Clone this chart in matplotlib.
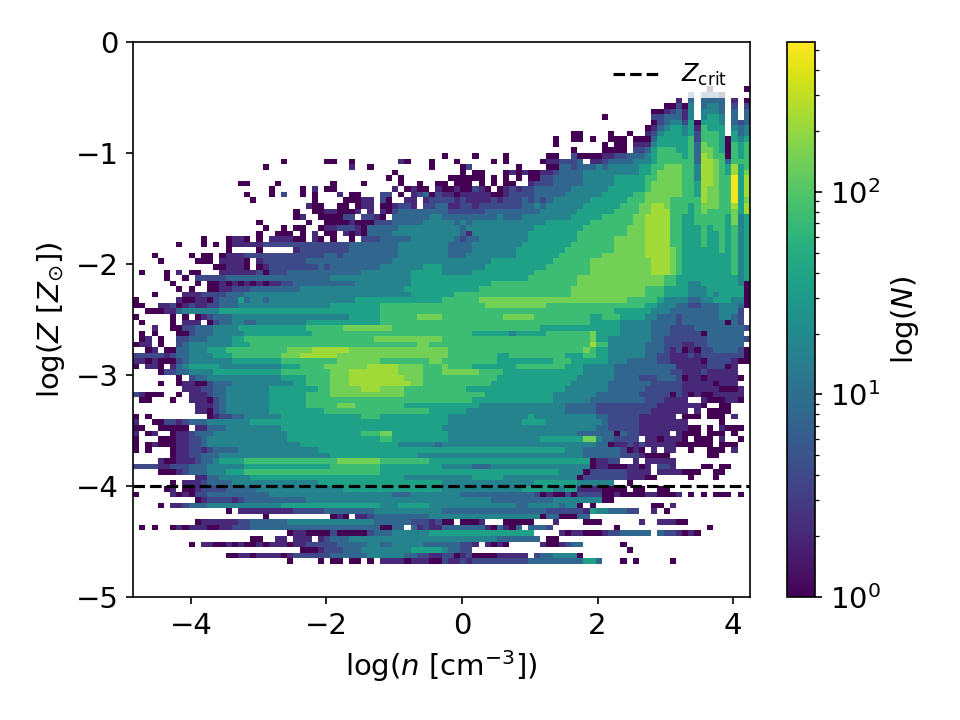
import matplotlib
matplotlib.use("Agg")
import matplotlib.pyplot as plt
from matplotlib.colors import LogNorm
import numpy as np

# counts per bin for each digit used in the rows below, '.' is an empty bin
count_levels = [1, 2, 4, 8, 17, 36, 75, 145, 225, 500]

# histogram rows, metallicity falling downwards, ten density bins per group
first_row = 8
top_rows = [
    ". . . . . . . . . ...0.....0",
    ". . . . . . . . . 3.3330....",
    ". . . . . . . . ........1. 3.3333.1.0",
    ". . . . . . . . ......0020 4.3443.2.2",
    ". . . . . . . . ....001231 4.4443.3.3",
    ". . . . . . . ......0... ....223331 4.4554.3.3",
    ". . . . . . . . ....023442 505554.323",
    ". . . . . . . . ...0134554 516555.434",
    ". . . . . . . .00....0.. 0..1245554 526665.534",
    ". . . . . . ........0. .00.0..000 .000355555 6266650545",
    ". . . . . . ........0. ......0.00 .111455555 6376650656",
    ". . . . . . . .0....0000 .223566655 6377650656",
    ". . . . . 0....0.... 0......00. .200001122 3334566665 6387660656",
    ". . ....0..... .00..0.... ...10...0. ..0.....0. 0.....0112 223.112333 3444566666 6388763666",
    ". . .0........ .....1..0. ........0. ...02..... ..0....003 3233343444 4455667776 6488765856",
    ". . . . ..0....... ...0.00... 0101001123 3334444444 4455677776 6488765857",
    ". . . . .0.0...... .000000.0. 0.0.002233 3334444455 5556677776 6488766958",
    ". .......00. ...0...... ..0....0.. ...0..0..0 0.000.0.0. 00..122233 3334444455 5556777776 6588766958",
    ". . ..0....0.1 .00....... ..1.0100.1 00100210.0 1212233333 3444444555 5556777776 6587766958",
    ". ........0. ..0.2..0.0 ...1.00... 22.0.12302 1101111100 1222233333 4444445555 5667777776 6587766958",
    ". .........0 .........0 ....00011. 20..11.122 2212111121 2223232344 4444555555 6667777666 6687766957",
    ". . ........10 0..00.011. 001221.223 3112212222 2223343444 4445555556 6677887666 5677766858",
    ". . ......0..0 0110001.1. 1023333333 3222222333 3333334444 4455555566 6677888666 5676666758",
    ". . ......01.. 000022.221 0.33333344 3333333334 3334444444 4555556666 6778888665 5666665745",
    ". . 0.......0. .000010002 2233333444 4434344444 4444444555 5555666666 6778888665 5666665745",
]
mid_rows = [
    ". . .0..0.00.. 0112221033 3334444444 4443444444 4444455555 5556666666 7778888665 5565665645",
    ". . 0..000.0.1 .00.101033 3344444444 4443144444 4444555555 5566666666 7778888665 5565565645",
    ". .0...0110. 0.111100.1 0.0..0.222 3333344444 4432334444 4444555555 5566666677 7778888665 5565565645",
    ".......0.. .0.0.01111 1222222222 2222233333 3334444444 4333344444 4445555555 5666666677 7778888665 5565565645",
    ". .....0.... 0.....1222 2222233333 3334444444 4333344444 4455555555 6666666677 7778888765 5555565645",
    "...0.....0 .00.011122 2222222222 2332333333 3334444444 4333444444 4455555556 6666667777 7778888765 5555555645",
    "....0..... 000.11110. 1222222233 3333333333 3344444444 4444444455 5555555566 6666777777 7777888765 5555555645",
    ". ...001110. 0122222222 3233333333 4444444555 4444444555 5555555666 6666777777 7777888765 5555555645",
    ".0...0.1.0 0...111111 2022233333 3333333444 4444455555 4444455555 5555566666 6666777777 7777888765 5555555645",
    ".....0..0. 2222233333 3333333333 3344444444 4444455555 5555555555 5555666666 6677777777 7777776655 5555555545",
    "......0... 0.00101010 1011223333 3333334444 4444455555 5555555566 6666666666 6677777777 7777776655 4455555540",
    ".......0.0 ..00112223 3333333444 4444444444 4444555555 5555556666 6666666666 6777777777 7776665555 4445555550",
    "...0....11 1222233344 4444444444 4444444444 4444455555 5566666666 6666666666 6777777777 7776665555 4445455550",
    "0......100 1102333534 4344444444 4444445555 5555555555 6666667777 7777777777 7777777777 6666654444 3344555440",
    "00..112012 1122333444 4444444444 4455555555 6666666666 6666666777 7777777666 6666666666 6665544433 2233344430",
    "..00011344 4444555555 5555555555 5555555555 6666666666 6666666666 6666666666 6666666655 5555444333 333334442.",
    "0.....0.0. 0123334444 4444444444 4444455555 6666667777 6666666666 7777766666 6666556665 5554433323 333334432.",
    ".0....0.11 1.02334433 4444444455 5555555555 6666666666 6666666666 6666666666 6666555554 4444333323 333333032.",
    "...1..0022 3334444555 5555555566 6666777777 7766666666 6666666666 6666665555 5555555554 4444333222 2333333332",
    ".0.0...002 3334444455 5555555556 6666666666 6666666666 6666655555 5455555666 6666755554 4444333222 220333333.",
    ".01.0..223 3344445566 6666666666 6666666667 7777777777 6666666666 6666666666 6666755444 4444332222 2223333332",
    "011.0..234 4444445556 6666666666 6666666666 6666667766 6666666666 6666666666 6666866444 4443332221 122333333.",
    "..01.00334 4455566666 6666677778 8888877777 7777777777 7666666666 6666666666 6667655444 4443332120 1022333320",
    "2222212334 4445556666 6666777888 8887777777 7777777777 7666666665 5666666666 5556655444 4443322111 2122222220",
    "1101000234 4444445555 5555666666 6667777777 6666666677 6666666665 5555555566 6555555444 3333322111 1102222100",
    "0.110.1345 5555444444 4444555666 6777777788 8887777666 7666655555 5566666666 5554444433 3333333311 11122201..",
    "....022334 4445555555 5555666666 6677788888 8887777666 7777776666 5555555555 5554444433 3333333221 11211111..",
    ".......0.2 3344444444 4444555566 6677788888 8888777666 6666666665 5555555555 5544444433 3322233320 110111110.",
    "....0..011 0023334444 4444445566 6677788888 8888877666 6666666655 5555555555 5444444333 3333222221 11110111..",
    "........11 1223344444 4455555555 6677777888 7777666666 6666555555 5555555555 4444444333 3332222221 111110001.",
    "21000..0.1 1123344444 4455555566 6677777777 7777666666 6666666555 5555555544 4444433333 3322222021 010011111.",
    ".00...0..1 1102344444 4455555566 6666666666 6666666666 6666655555 5555555544 4444333333 3332221111 ..1000110.",
    ". 1112344444 4455555566 6667776666 6666555555 5555554444 4444444444 3333322222 2222211111 110..00...",
    ". 1102344444 4455555555 5666666666 6666666655 5555444444 4444444444 3333322222 2222111111 .1.0000...",
]
low_rows = [
    "0.0....... ..01223344 4444555555 5555555666 5555555555 5444444444 4444544444 4444433222 22111111.0 00.000.1..",
    "1..0022123 3344444445 5555555555 5555555555 5555555555 5444444444 4445555444 4444443222 2211111111 .....0....",
    "00..00000. 1133344444 4444555555 5555555555 5555555555 4444444444 4444444444 4444433222 2211111111 00.0.1000.",
    "1.01..0112 3334444444 4444455555 5555555666 7755555555 5444444444 4444444444 4433333303 2211111.10 00.000.0..",
    "0...000112 2344444444 4444455555 5555555555 6655555555 5444444444 4444445555 5557743322 22.1101110 .000.1..0.",
    "0.01000112 2344444444 4444444555 5555555555 5554444443 4444444444 4444444444 4444433011 2121111100 0000.000..",
    "0.0...0112 2123333444 4444444444 5555555555 5555555555 5555555555 5555555555 4443333332 010.1.11.. 0..000.1..",
    "......0112 2333444444 4444444444 4455555555 5555554444 4444444444 4444444444 4443333332 2210000... ...00.....",
    "....100111 2334555566 6666666666 6667777777 6666666655 5555555555 5555555555 555501122. .1.11111..",
    "2222112223 3344444455 5555555555 5566666666 5555555555 4444433344 4444444444 4444011000 1101.221.. ..00.00...",
    "....000123 3344455566 6666666666 6666666666 5555555555 5555555555 5555555554 4440222222 1111.11110 00..00....",
    ". 1133444445 5555555555 5555555555 5555444444 4444455555 4444444444 4402222222 11100..... 0...0.....",
    "......0.11 1233334444 4444444444 5555555555 5555555555 4444444444 4444455555 55444444.. 0.........",
    ".....01.00 1222233333 4444444444 4444555555 5555555555 4444444444 4445555544 5511110000 .00..00...",
    "0.....1010 2233333333 3344444444 4444444444 4433344444 4443333333 3333320100 2022220010 000110001. 0.0.000.0.",
    ". 0122221233 3333333344 4444444444 4444444444 4444444433 3333333344 44444400..",
    "....0.1123 3344444444 4444555555 5555555555 4445555544 4444444444 4433444443 440.0..... ....00.1..",
    ". .....0.111 1111112222 2333333334 4444444444 3333333333 3333333222 2221544333 22..1.0...",
    ". . .0........ ..010.1123 3333333344 4444444444 4444440330 0033......",
    ". 0111111223 3333344444 4444444443 3333322212 00.0001... 00000...1. ...000.... ..1..11100",
    ".0.0..0101 1100112223 3333333333 3333333333 0033.31211 3333333103 103.3332.. ........0. . ...0......",
    ". . .....01100 0020000023 3344444455 5555555555 55555....1 0110001223 3333.32210 10........",
    ". .........0 0..11.111. 1233344444 4444444444 4444444443 333333.00.",
    ".........0 .110010100 1011101122 2223333344 3344444333 333221.101 0.....1001 233......0",
    ". . .......000 1222333444 4444455555 43322..... . . 0.........",
    ". .....00110 1111012222 2233333344 4444332211 2201200001 1111.23344 440.......",
    ". . .....0.... 0.00.00.0. 1111011100 2112122222 2222333333 333553...0 .0.....0..",
]


def decode(rows):
    # each group is padded to ten bins so a short group cannot shift its neighbours
    grid = np.full((len(rows), 100), np.nan)
    for i, row in enumerate(rows):
        groups = row.split()
        cells = "".join(g.ljust(10, ".") for g in groups).ljust(100, ".")
        for j, ch in enumerate(cells[:100]):
            if ch != ".":
                grid[i, j] = count_levels[int(ch)]
    return grid


counts = np.full((100, 100), np.nan)
filled = decode(top_rows + mid_rows + low_rows)
counts[first_row:first_row + filled.shape[0]] = filled

n_edges = np.linspace(-4.855, 4.25, 101)
z_edges = np.linspace(0, -5, 101)

plt.rcParams["font.size"] = 10
fig = plt.figure(figsize=(6.4, 4.8), dpi=150)
ax = fig.add_axes([133 / 960, 123 / 720, 617 / 960, 555 / 720])
cax = fig.add_axes([787 / 960, 123 / 720, 28 / 960, 555 / 720])

mesh = ax.pcolormesh(n_edges, z_edges, np.ma.masked_invalid(counts),
                     cmap="viridis", norm=LogNorm(vmin=1, vmax=550))
ax.axhline(-4, color="k", ls="--", lw=1.5, label=r"$Z_{\rm crit}$")
ax.set_xlim(-4.855, 4.25)
ax.set_ylim(-5, 0)
ax.set_xticks([-4, -2, 0, 2, 4])
ax.set_yticks([-5, -4, -3, -2, -1, 0])
ax.tick_params(labelsize=14)
ax.set_xlabel(r"log($n$ [cm$^{-3}$])", fontsize=14)
ax.set_ylabel(r"log($Z$ [$Z_{\odot}$])", fontsize=14)
ax.legend(loc="upper right", bbox_to_anchor=(0.997, 1.003), frameon=True,
          edgecolor="none", fontsize=11.5)

cbar = fig.colorbar(mesh, cax=cax)
cbar.ax.tick_params(labelsize=14)
cbar.set_label(r"log($N$)", fontsize=14)

fig.savefig("out.png", dpi=150)
